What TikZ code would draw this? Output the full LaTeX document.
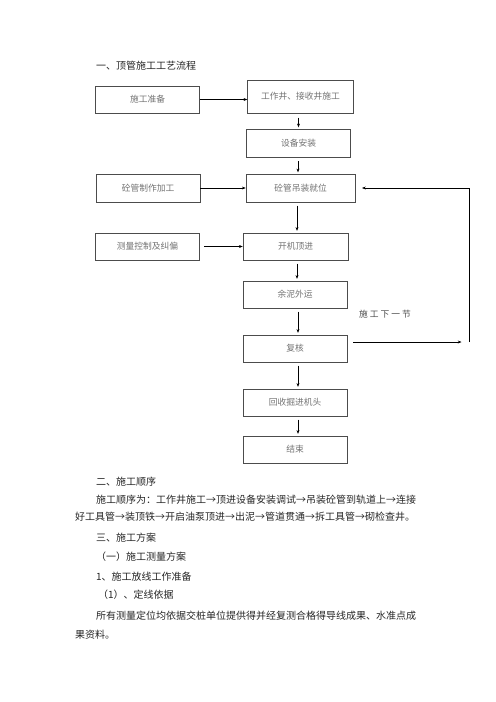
\documentclass[tikz,border=0pt]{standalone}
\usepackage{fontspec}
\setmainfont{Noto Sans CJK SC}
\usetikzlibrary{arrows.meta,positioning}

\newcommand{\bodyfont}{\fontsize{12pt}{14pt}\selectfont}
\newcommand{\boxfont}{\fontsize{10.5pt}{12pt}\selectfont}

\begin{document}
\begin{tikzpicture}[
  x=1.2pt, y=-1.2pt,
  stepbox/.style={draw=black!70, line width=0.6pt, fill=white,
                  minimum width=125pt, minimum height=33pt,
                  align=center, inner sep=2pt, font=\boxfont, text=black!55},
  arr/.style={-{Stealth[length=4.5pt,width=3.5pt]}, line width=0.6pt, black},
  vflow/.style={arr, shorten <=5pt, shorten >=2pt},
  loopline/.style={line width=0.6pt, black},
  txt/.style={anchor=west, inner sep=0pt, font=\bodyfont, text=black!85},
  lbl/.style={anchor=west, inner sep=0pt, font=\boxfont, text=black!70},
]

  \useasboundingbox (0,0) rectangle (496,702);

  % Title
  \node[txt] (title) at (96,66) {一、顶管施工工艺流程};

  % Flow chart boxes
  \node[stepbox] (prep)    at (147.5, 99.5) {施工准备};
  \node[stepbox, minimum width=127pt, minimum height=40pt]
                 (well)    at (300.5, 96.5) {工作井、接收井施工};
  \node[stepbox] (equip)   at (298.5,143)   {设备安装};
  \node[stepbox] (pipe)    at (148,  188)   {砼管制作加工};
  \node[stepbox, minimum width=131pt]
                 (hoist)   at (300.5,188)   {砼管吊装就位};
  \node[stepbox] (survey)  at (147.5,246.5) {测量控制及纠偏};
  \node[stepbox, minimum width=126pt]
                 (push)    at (295.5,246.5) {开机顶进};
  \node[stepbox] (mud)     at (295,  294.5) {余泥外运};
  \node[stepbox] (check)   at (295,  348.5) {复核};
  \node[stepbox] (recover) at (295,  402.5) {回收掘进机头};
  \node[stepbox] (finish)  at (295,  449.5) {结束};

  % Arrows
  \draw[arr] (prep.east) -- (prep.east -| well.west);
  \draw[vflow] (equip.north |- well.south) -- (equip.north);
  \draw[vflow] (hoist.north -| 298,0) ++(0,-17) -- (hoist.north -| 298,0);
  \draw[arr] (pipe.east) -- (hoist.west);
  \draw[vflow] (push.north -| 297,0) ++(0,-31) -- (push.north -| 297,0);
  \draw[arr, shorten <=5pt] (survey.east) -- (push.west);
  \draw[vflow] (mud.north -| 297,0) ++(0,-21) -- (mud.north -| 297,0);
  \draw[vflow] (check.north -| 298,0) ++(0,-27) -- (check.north -| 298,0);
  \draw[vflow] (recover.north -| 298,0) ++(0,-27) -- (recover.north -| 298,0);
  \draw[vflow] (finish.north -| 298,0) ++(0,-20) -- (finish.north -| 298,0);

  % Loop back to next section
  \coordinate (looptop) at (469,188);
  \coordinate (loopbot) at (469,342);
  \draw[arr, shorten <=7pt, shorten >=9pt] (check.east |- loopbot) -- (loopbot);
  \draw[loopline] (loopbot) -- (looptop);
  \draw[arr, shorten >=8pt] (looptop) -- (hoist.east);
  \node[lbl] (next) at (359,314) {施 工 下 一 节};

  % Body text
  \node[txt] (sec2)  at (96,482) {二、施工顺序};
  \node[txt] (seq1)  at (96,500) {施工顺序为：工作井施工→顶进设备安装调试→吊装砼管到轨道上→连接};
  \node[txt] (seq2)  at (75,517) {好工具管→装顶铁→开启油泵顶进→出泥→管道贯通→拆工具管→砌检查井。};
  \node[txt] (sec3)  at (96,538) {三、施工方案};
  \node[txt] (sub1)  at (96,557) {（一）施工测量方案};
  \node[txt] (item1) at (96,577) {1、施工放线工作准备};
  \node[txt] (item2) at (98,595) {（1）、定线依据};
  \node[txt] (par1)  at (96,616) {所有测量定位均依据交桩单位提供得并经复测合格得导线成果、水准点成};
  \node[txt] (par2)  at (75,635) {果资料。};

\end{tikzpicture}
\end{document}
